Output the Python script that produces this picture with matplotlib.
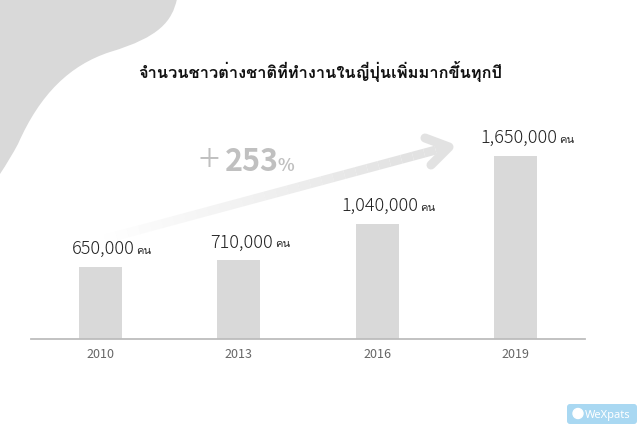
import matplotlib
matplotlib.use('Agg')
import matplotlib.pyplot as plt
from matplotlib.patches import PathPatch, FancyBboxPatch
from matplotlib.path import Path

years = ['2010', '2013', '2016', '2019']
workers = [650000, 710000, 1040000, 1650000]
unit = 'คน'
title = 'จำนวนชาวต่างชาติที่ทำงานในญี่ปุ่นเพิ่มมากขึ้นทุกปี'
growth = '253'

W, H = 640, 427
fig = plt.figure(figsize=(6.4, 4.27), dpi=100)

def fx(x):
    return x / W

def fy(y):
    return 1 - y / H

thai = ['Loma', 'DejaVu Sans']
num_font = ['Noto Sans CJK JP', 'DejaVu Sans']

# grey blob in the top-left corner
bg = fig.add_axes([0, 0, 1, 1])
bg.set_xlim(0, W)
bg.set_ylim(H, 0)
bg.axis('off')
verts = [(0, 0), (177, 0),
         (172, 22), (160, 38), (110, 53),
         (70, 66), (40, 95), (18, 145),
         (10, 160), (0, 175), (0, 0)]
codes = [Path.MOVETO, Path.LINETO,
         Path.CURVE4, Path.CURVE4, Path.CURVE4,
         Path.CURVE4, Path.CURVE4, Path.CURVE4,
         Path.CURVE3, Path.CURVE3, Path.CLOSEPOLY]
bg.add_patch(PathPatch(Path(verts, codes), facecolor='#d9d9d9', edgecolor='none'))

# fading trend arrow
n = 30
x0, y0, x1, y1 = 105, 240, 447, 148
for i in range(n):
    a = x0 + (x1 - x0) * i / n
    b = y0 + (y1 - y0) * i / n
    c = x0 + (x1 - x0) * (i + 1) / n
    d = y0 + (y1 - y0) * (i + 1) / n
    bg.plot([a, c], [b, d], color='#e2e2e2', lw=6.5, alpha=min(1, 0.03 + i / n * 1.1),
            solid_capstyle='butt')
bg.plot([425, 449, 431], [139, 148, 166], color='#e2e2e2', lw=6.5,
        solid_capstyle='round', solid_joinstyle='round')

bg.text(199, 172, '+', fontsize=28, color='#c0c0c0', fontweight='light',
        family=num_font, va='baseline', ha='left')
bg.text(225, 171, growth, fontsize=22, color='#c0c0c0', fontweight='semibold',
        family=num_font, va='baseline', ha='left')
bg.text(278, 171, '%', fontsize=12.5, color='#c0c0c0', fontweight='semibold',
        family=num_font, va='baseline', ha='left')

# bar chart
ax = fig.add_axes([fx(31), fy(340), fx(585) - fx(31), fy(100) - fy(340)])
ax.patch.set_alpha(0)
x = range(len(years))
ax.bar(x, workers, width=0.31, color='#d9d9d9', zorder=2)
ax.set_xlim(-0.5, 3.5)
ax.set_ylim(0, 2165000)
for s in ['top', 'right', 'left']:
    ax.spines[s].set_visible(False)
ax.spines['bottom'].set_color('#bdbdbd')
ax.spines['bottom'].set_linewidth(1.3)
ax.set_yticks([])
ax.set_xticks(list(x))
ax.set_xticklabels(years, fontsize=9, color='#666666', family=num_font)
ax.tick_params(axis='x', length=0, pad=6)

for i, v in enumerate(workers):
    t = ax.annotate(f'{v:,}', (i, v), xytext=(2, 7), textcoords='offset points',
                    ha='center', va='bottom', fontsize=13, color='#222222',
                    family=num_font, fontweight='light')
    ax.annotate(unit, (1, 0), xycoords=t, xytext=(1.5, 1.5), textcoords='offset points',
                ha='left', va='bottom', fontsize=8, color='#222222', family=thai)

fig.text(0.5, fy(72), title, ha='center', va='center', fontsize=11.8, fontweight='bold',
         color='#111111', family=thai)

# watermark
bg.add_patch(FancyBboxPatch((567, 405), 70, 20, boxstyle='round,pad=0,rounding_size=3',
                            facecolor='#a9d8f2', edgecolor='none'))
bg.add_patch(plt.Circle((578, 414.5), 5, color='white'))
bg.text(585, 415.5, 'WeXpats', color='white', fontsize=8, va='center', ha='left',
        family=['Noto Sans', 'DejaVu Sans'])

fig.savefig('out.png', dpi=100)
